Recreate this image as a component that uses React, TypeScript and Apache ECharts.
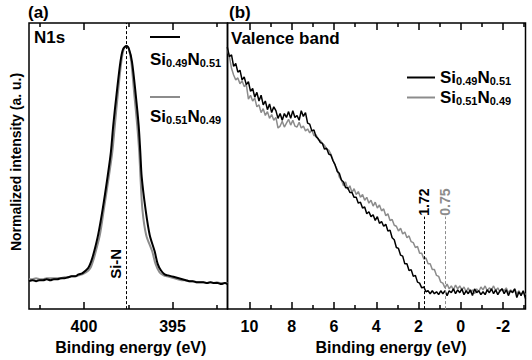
import { useEffect, useRef } from 'react';
import * as echarts from 'echarts';

const FONT = '"Liberation Sans", Arial, Helvetica, sans-serif';
const BLACK = '#000000';
const GREY = '#8c8c8c';

const seriesNames = ['Si0.49N0.51', 'Si0.51N0.49'];

// Panel (a): N1s core level, [binding energy (eV), intensity (a.u.)]
const n1sRange = [391.9, 403.1];
const n1sMajorTicks = [400, 395];
const n1sMinorTicks = [402.5, 397.5, 392.5];
const siNPeak = 397.6;

const n1sBlack = [
  [403.1, 29], [402.9, 30], [402.7, 29], [402.5, 30], [402.3, 30], [402.1, 31], [401.9, 30], [401.7, 31],
  [401.5, 31], [401.3, 32], [401.1, 32], [400.9, 33], [400.7, 34], [400.5, 34], [400.3, 36], [400.1, 37],
  [399.9, 40], [399.75, 43], [399.6, 49], [399.42, 60], [399.2, 77], [398.95, 103], [398.67, 137],
  [398.48, 163], [398.35, 190], [398.16, 223], [397.94, 257], [397.79, 270], [397.6, 273], [397.46, 270],
  [397.29, 257], [397.08, 223], [396.91, 190], [396.82, 163], [396.74, 137], [396.52, 103], [396.29, 77],
  [396.01, 60], [395.84, 47], [395.65, 40], [395.45, 36], [395.25, 35], [395.05, 34], [394.85, 33],
  [394.65, 32], [394.45, 31], [394.25, 30], [394.05, 29], [393.85, 29], [393.65, 28], [393.45, 28],
  [393.25, 28], [393.05, 27], [392.85, 28], [392.65, 27], [392.45, 27], [392.25, 26], [392.05, 27], [391.9, 26],
];

const n1sGrey = [
  [403.1, 31], [402.9, 31], [402.7, 32], [402.5, 31], [402.3, 31], [402.1, 32], [401.9, 32], [401.7, 32],
  [401.5, 32], [401.3, 32], [401.1, 33], [400.9, 33], [400.7, 34], [400.5, 34], [400.3, 35], [400.1, 36],
  [399.9, 38], [399.75, 40], [399.6, 44], [399.45, 52], [399.33, 60], [399.1, 77], [398.88, 103],
  [398.6, 137], [398.4, 163], [398.26, 190], [398.09, 223], [397.89, 257], [397.75, 270], [397.6, 273],
  [397.47, 270], [397.33, 257], [397.16, 223], [396.99, 190], [396.88, 163], [396.81, 137], [396.7, 103],
  [396.49, 77], [396.15, 60], [395.96, 47], [395.73, 38], [395.5, 35], [395.3, 34], [395.1, 33],
  [394.9, 32], [394.7, 31], [394.5, 30], [394.3, 30], [394.1, 29], [393.9, 29], [393.7, 28], [393.5, 28],
  [393.3, 28], [393.1, 27], [392.9, 28], [392.7, 27], [392.5, 28], [392.3, 27], [392.1, 27], [391.9, 27],
];

// Panel (b): valence band, [binding energy (eV), intensity (a.u.)]
const vbRange = [-3.06, 11.04];
const vbMajorTicks = [10, 8, 6, 4, 2, 0, -2];
const vbMinorTicks = [9, 7, 5, 3, 1, -1, -3];
const vbEdges = [1.72, 0.75];

const vbBlack = [
  [11.05, 272], [10.95, 262], [10.85, 264], [10.75, 252], [10.65, 255], [10.55, 246], [10.45, 248],
  [10.35, 238], [10.25, 241], [10.15, 233], [10.05, 236], [9.95, 226], [9.85, 229], [9.75, 220],
  [9.65, 225], [9.55, 216], [9.45, 222], [9.35, 212], [9.25, 216], [9.15, 207], [9.05, 213], [8.95, 204],
  [8.85, 210], [8.75, 206], [8.65, 198], [8.55, 203], [8.45, 196], [8.35, 203], [8.25, 199], [8.15, 205],
  [8.05, 198], [7.95, 206], [7.85, 199], [7.75, 201], [7.65, 196], [7.55, 206], [7.45, 200], [7.35, 204],
  [7.25, 193], [7.15, 192], [7.05, 185], [6.95, 186], [6.85, 179], [6.75, 177], [6.65, 173], [6.55, 172],
  [6.45, 166], [6.35, 167], [6.25, 161], [6.15, 160], [6.05, 154], [5.95, 150], [5.85, 143], [5.75, 141],
  [5.65, 134], [5.55, 132], [5.45, 126], [5.35, 126], [5.25, 121], [5.15, 121], [5.05, 116], [4.95, 116],
  [4.85, 110], [4.75, 111], [4.65, 105], [4.55, 106], [4.45, 99], [4.35, 101], [4.25, 96], [4.15, 98],
  [4.05, 92], [3.95, 96], [3.85, 89], [3.75, 91], [3.65, 86], [3.55, 88], [3.45, 81], [3.35, 82],
  [3.25, 74], [3.15, 72], [3.05, 64], [2.95, 63], [2.85, 56], [2.75, 55], [2.65, 47], [2.55, 47],
  [2.45, 40], [2.35, 41], [2.25, 34], [2.15, 35], [2.05, 28], [1.95, 27], [1.85, 22], [1.75, 23],
  [1.65, 18], [1.55, 19], [1.45, 16], [1.35, 19], [1.25, 16], [1.15, 18], [1.05, 15], [0.95, 19],
  [0.85, 16], [0.75, 19], [0.65, 14], [0.55, 19], [0.45, 17], [0.35, 21], [0.25, 16], [0.15, 20],
  [0.05, 17], [-0.05, 21], [-0.15, 15], [-0.25, 19], [-0.35, 16], [-0.45, 20], [-0.55, 14], [-0.65, 21],
  [-0.75, 17], [-0.85, 19], [-0.95, 15], [-1.05, 18], [-1.15, 15], [-1.25, 20], [-1.35, 17], [-1.45, 21],
  [-1.55, 16], [-1.65, 20], [-1.75, 15], [-1.85, 19], [-1.95, 21], [-2.05, 16], [-2.15, 20], [-2.25, 14],
  [-2.35, 19], [-2.45, 17], [-2.55, 21], [-2.65, 12], [-2.75, 18], [-2.85, 14], [-2.95, 19], [-3.06, 11],
];

const vbGrey = [
  [11.05, 270], [10.95, 262], [10.85, 250], [10.75, 243], [10.65, 238], [10.55, 240], [10.45, 234],
  [10.35, 237], [10.25, 231], [10.15, 233], [10.05, 218], [9.95, 222], [9.85, 216], [9.75, 219],
  [9.65, 210], [9.55, 212], [9.45, 204], [9.35, 208], [9.25, 201], [9.15, 205], [9.05, 198], [8.95, 202],
  [8.85, 196], [8.75, 199], [8.65, 188], [8.55, 190], [8.45, 195], [8.35, 189], [8.25, 193], [8.15, 197],
  [8.05, 191], [7.95, 196], [7.85, 190], [7.75, 189], [7.65, 194], [7.55, 188], [7.45, 190], [7.35, 185],
  [7.25, 187], [7.15, 183], [7.05, 186], [6.95, 180], [6.85, 181], [6.75, 176], [6.65, 175], [6.55, 172],
  [6.45, 170], [6.35, 166], [6.25, 165], [6.15, 161], [6.05, 155], [5.95, 149], [5.85, 145], [5.75, 137],
  [5.65, 134], [5.55, 128], [5.45, 132], [5.35, 124], [5.25, 128], [5.15, 121], [5.05, 125], [4.95, 119],
  [4.85, 122], [4.75, 116], [4.65, 119], [4.55, 113], [4.45, 116], [4.35, 110], [4.25, 113], [4.15, 107],
  [4.05, 111], [3.95, 105], [3.85, 108], [3.75, 102], [3.65, 104], [3.55, 97], [3.45, 99], [3.35, 92],
  [3.25, 93], [3.15, 87], [3.05, 86], [2.95, 81], [2.85, 84], [2.75, 78], [2.65, 80], [2.55, 74],
  [2.45, 76], [2.35, 70], [2.25, 69], [2.15, 64], [2.05, 65], [1.95, 58], [1.85, 58], [1.75, 52],
  [1.65, 53], [1.55, 47], [1.45, 47], [1.35, 41], [1.25, 41], [1.15, 35], [1.05, 34], [0.95, 28],
  [0.85, 27], [0.75, 22], [0.65, 26], [0.55, 21], [0.45, 24], [0.35, 20], [0.25, 25], [0.15, 21],
  [0.05, 24], [-0.05, 20], [-0.15, 23], [-0.25, 18], [-0.35, 22], [-0.45, 17], [-0.55, 20], [-0.65, 16],
  [-0.75, 21], [-0.85, 18], [-0.95, 23], [-1.05, 20], [-1.15, 24], [-1.25, 19], [-1.35, 22], [-1.45, 20],
  [-1.55, 24], [-1.65, 19], [-1.75, 22], [-1.85, 18], [-1.95, 21], [-2.05, 19], [-2.15, 22], [-2.25, 17],
  [-2.35, 20], [-2.45, 18], [-2.55, 21], [-2.65, 16], [-2.75, 19], [-2.85, 15], [-2.95, 18], [-3.06, 15],
];

const richName = (name: string) => name.replace(/^Si([\d.]+)N([\d.]+)$/, '{m|Si}{s|$1}{m|N}{s|$2}');

const richLegend = {
  m: { fontSize: 17, fontWeight: 'bold', fontFamily: FONT, color: BLACK, lineHeight: 17, verticalAlign: 'top' },
  s: { fontSize: 11, fontWeight: 'bold', fontFamily: FONT, color: BLACK, lineHeight: 2, verticalAlign: 'bottom' },
};
const richGraphic = {
  m: { fontSize: 17, fontWeight: 'bold', fontFamily: FONT, fill: BLACK, lineHeight: 17, verticalAlign: 'top' },
  s: { fontSize: 11, fontWeight: 'bold', fontFamily: FONT, fill: BLACK, lineHeight: 2, verticalAlign: 'bottom' },
};

function tickAxis(gridIndex: number, position: string, range: number[], ticks: number[], len: number, labels?: number[], name?: string, namePadLeft = 0) {
  return {
    type: 'value',
    gridIndex,
    position,
    inverse: true,
    min: range[0],
    max: range[1],
    axisLine: { show: false, onZero: false },
    axisTick: { show: true, inside: true, length: len, customValues: ticks, lineStyle: { color: BLACK, width: 1.5 } },
    axisLabel: labels
      ? { show: true, customValues: labels, margin: 9, color: BLACK, fontSize: 16, fontWeight: 'bold', fontFamily: FONT }
      : { show: false },
    splitLine: { show: false },
    name: name || '',
    nameLocation: 'middle',
    nameGap: 20,
    nameTextStyle: { color: BLACK, fontSize: 16, fontWeight: 'bold', fontFamily: FONT, padding: [0, 0, 0, namePadLeft] },
  };
}

// rotated annotation text placed through the axes' own scales
function rotatedText(xAxisIndex: number, yAxisIndex: number, items: { value: number[]; text: string; color: string; size: number }[]) {
  return {
    type: 'custom',
    xAxisIndex,
    yAxisIndex,
    silent: true,
    data: items.map((d) => d.value),
    renderItem: (params: any, api: any) => {
      const d = items[params.dataIndex];
      const p = api.coord([api.value(0), api.value(1)]);
      return {
        type: 'text',
        x: p[0],
        y: p[1],
        rotation: Math.PI / 2,
        style: {
          text: d.text,
          fill: d.color,
          font: `bold ${d.size}px ${FONT}`,
          align: 'center',
          verticalAlign: 'middle',
        },
      };
    },
  };
}

export default function App() {
  const ref = useRef<HTMLDivElement>(null);
  useEffect(() => {
    if (!ref.current) return;
    const chart = echarts.init(ref.current, undefined, { renderer: 'svg' });
    const dash = { type: [3, 2], width: 1 };
    const option: any = {
      animation: false,
      backgroundColor: '#ffffff',
      grid: [
        { left: 29, top: 23, width: 198.5, height: 297, show: true, borderColor: BLACK, borderWidth: 1.5, backgroundColor: 'transparent' },
        { left: 227.5, top: 23, width: 298, height: 297, show: true, borderColor: BLACK, borderWidth: 1.5, backgroundColor: 'transparent' },
      ],
      xAxis: [
        tickAxis(0, 'bottom', n1sRange, n1sMajorTicks, 7, n1sMajorTicks, 'Binding energy (eV)', 5),
        tickAxis(0, 'bottom', n1sRange, n1sMinorTicks, 4),
        tickAxis(0, 'top', n1sRange, n1sMajorTicks, 7),
        tickAxis(0, 'top', n1sRange, n1sMinorTicks, 4),
        tickAxis(1, 'bottom', vbRange, vbMajorTicks, 7, vbMajorTicks, 'Binding energy (eV)', 29),
        tickAxis(1, 'bottom', vbRange, vbMinorTicks, 4),
        tickAxis(1, 'top', vbRange, vbMajorTicks, 7),
        tickAxis(1, 'top', vbRange, vbMinorTicks, 4),
      ],
      yAxis: [
        { type: 'value', gridIndex: 0, min: 0, max: 297, show: false },
        { type: 'value', gridIndex: 1, min: 0, max: 297, show: false },
      ],
      legend: {
        data: seriesNames.map((n) => ({ name: n, icon: 'rect' })),
        orient: 'vertical',
        left: 402,
        top: 64,
        itemWidth: 28,
        itemHeight: 2,
        itemGap: 3,
        selectedMode: false,
        formatter: richName,
        textStyle: { rich: richLegend },
      },
      series: [
        {
          name: seriesNames[1], type: 'line', xAxisIndex: 0, yAxisIndex: 0, data: n1sGrey,
          symbol: 'none', smooth: 0.3, lineStyle: { color: GREY, width: 2 }, itemStyle: { color: GREY },
        },
        {
          name: seriesNames[0], type: 'line', xAxisIndex: 0, yAxisIndex: 0, data: n1sBlack,
          symbol: 'none', smooth: 0.3, lineStyle: { color: BLACK, width: 2 }, itemStyle: { color: BLACK },
          markLine: {
            silent: true, symbol: ['none', 'none'], label: { show: false },
            lineStyle: { color: BLACK, ...dash },
            data: [{ xAxis: siNPeak }],
          },
        },
        {
          name: seriesNames[1], type: 'line', xAxisIndex: 4, yAxisIndex: 1, data: vbGrey,
          symbol: 'none', lineStyle: { color: GREY, width: 1.5 }, itemStyle: { color: GREY },
          markLine: {
            silent: true, symbol: ['none', 'none'], label: { show: false },
            lineStyle: { color: GREY, ...dash },
            data: [[{ coord: [vbEdges[1], 0] }, { coord: [vbEdges[1], 96] }]],
          },
        },
        {
          name: seriesNames[0], type: 'line', xAxisIndex: 4, yAxisIndex: 1, data: vbBlack,
          symbol: 'none', lineStyle: { color: BLACK, width: 1.5 }, itemStyle: { color: BLACK },
          markLine: {
            silent: true, symbol: ['none', 'none'], label: { show: false },
            lineStyle: { color: BLACK, ...dash },
            data: [[{ coord: [vbEdges[0], 0] }, { coord: [vbEdges[0], 96] }]],
          },
        },
        rotatedText(0, 0, [{ value: [398.2, 47], text: 'Si-N', color: BLACK, size: 15 }]),
        rotatedText(4, 1, [
          { value: [vbEdges[0], 111], text: vbEdges[0].toFixed(2), color: BLACK, size: 14 },
          { value: [vbEdges[1], 111], text: vbEdges[1].toFixed(2), color: GREY, size: 14 },
        ]),
      ],
      graphic: [
        { type: 'text', left: 28, top: 4, style: { text: '(a)', font: `bold 17px ${FONT}`, fill: BLACK } },
        { type: 'text', left: 229, top: 4, style: { text: '(b)', font: `bold 17px ${FONT}`, fill: BLACK } },
        { type: 'text', left: 34, top: 29, style: { text: 'N1s', font: `bold 17px ${FONT}`, fill: BLACK } },
        { type: 'text', left: 231, top: 30, style: { text: 'Valence band', font: `bold 17px ${FONT}`, fill: BLACK } },
        {
          type: 'text', x: 16, y: 162, rotation: Math.PI / 2,
          style: { text: 'Normalized intensity (a. u.)', font: `bold 14px ${FONT}`, fill: BLACK, align: 'center', verticalAlign: 'middle' },
        },
        { type: 'line', shape: { x1: 150, y1: 37, x2: 180, y2: 37 }, style: { stroke: BLACK, lineWidth: 2 } },
        { type: 'text', x: 150, y: 51, style: { text: richName(seriesNames[0]), rich: richGraphic, verticalAlign: 'top' } },
        { type: 'line', shape: { x1: 150, y1: 97, x2: 180, y2: 97 }, style: { stroke: GREY, lineWidth: 2 } },
        { type: 'text', x: 150, y: 108, style: { text: richName(seriesNames[1]), rich: richGraphic, verticalAlign: 'top' } },
      ],
    };
    chart.setOption(option);
    return () => chart.dispose();
  }, []);
  return <div ref={ref} style={{ position: 'absolute', left: 0, top: 0, width: 532, height: 360 }} />;
}
